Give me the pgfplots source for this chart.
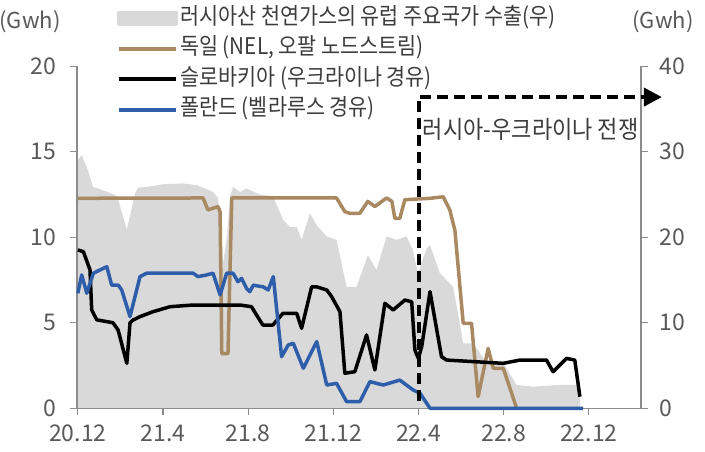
\documentclass[border=0pt]{standalone}
\usepackage{fontspec}
\setmainfont{Noto Sans CJK KR}
\newfontfamily\legfont[FakeStretch=0.9]{Noto Sans CJK KR}
\usepackage{pgfplots}
\pgfplotsset{compat=1.18}
\usetikzlibrary{arrows.meta}

\definecolor{brn}{RGB}{168,137,98}
\definecolor{blu}{RGB}{46,94,170}
\definecolor{areagray}{RGB}{217,217,217}
\definecolor{axgray}{RGB}{140,140,140}
\definecolor{lblgray}{RGB}{89,89,89}
\definecolor{txtgray}{RGB}{60,60,60}

\pgfplotsset{
  common/.style={
    at={(77pt,43.7pt)}, anchor=south west,
    scale only axis, width=564pt, height=342pt,
    xmin=-0.04, xmax=26.45,
    axis line style={-, axgray, line width=1.2pt},
    tick style={axgray, line width=1.2pt},
    major tick length=7pt, tick align=outside,
    ticklabel style={font=\fontsize{23}{27}\selectfont, text=lblgray},
    /pgf/number format/assume math mode=true,
  }
}

\begin{document}
\begin{tikzpicture}[x=1pt,y=1pt]
\useasboundingbox (0,0) rectangle (705,452);

% gray area, right axis
\begin{axis}[common,
  ymin=0, ymax=40, ytick={0,10,20,30,40},
  axis x line=none, axis y line*=right,
  yticklabel style={xshift=8pt},
]
\addplot[fill=areagray, draw=none] coordinates {
(0,29.0)(0.18,29.6)(0.45,28.0)(0.71,25.9)(1.18,25.5)(1.51,25.2)(1.85,24.8)(2.30,20.9)(2.70,25.2)(2.83,25.8)(3.25,25.9)(4.0,26.2)(4.94,26.3)(5.60,26.1)(6.35,25.3)(6.58,24.6)(6.70,22.0)(6.82,17.0)(7.00,20.0)(7.15,24.8)(7.29,25.9)(7.62,25.3)(7.93,25.7)(8.55,25.0)(9.16,24.8)(9.65,22.0)(9.96,21.2)(10.28,21.2)(10.51,19.7)(10.90,22.8)(11.22,21.4)(11.69,20.1)(12.15,19.7)(12.62,14.2)(13.09,14.2)(13.62,17.9)(14.03,16.2)(14.50,20.1)(14.97,19.7)(15.44,20.1)(15.74,18.5)(15.97,15.8)(16.38,18.7)(16.54,19.1)(17.00,15.8)(17.63,14.2)(18.10,7.6)(18.57,7.6)(19.20,5.3)(19.98,5.3)(20.61,2.73)(21.38,2.53)(22.64,2.73)(23.58,2.73)
} \closedcycle;
\end{axis}

% lines, left axis
\begin{axis}[common,
  ymin=0, ymax=20, ytick={0,5,10,15,20},
  axis x line*=bottom, axis y line*=left,
  yticklabel style={xshift=-10pt},
  xtick={0,4,8,12,16,20,24},
  xticklabels={20.12,21.4,21.8,21.12,22.4,22.8,22.12},
  xticklabel style={yshift=-6pt},
  clip=false,
  legend style={at={(0.0709,1.179)}, anchor=north west, draw=none, fill=none,
    inner sep=0pt, row sep=4.5pt,
    font=\legfont\fontsize{23}{27}\selectfont, text=txtgray,
    nodes={inner sep=2pt, text height=17pt, text depth=5pt}},
  legend cell align=left,
  legend image code/.code={\draw[#1, line width=4pt] (0pt,0pt) -- (57pt,0pt);},
  every axis plot/.append style={line width=3.5pt, line join=round},
]
\addlegendimage{legend image code/.code={\fill[areagray] (0pt,-6pt) rectangle (57pt,6pt);}}
\addlegendentry{러시아산 천연가스의 유럽 주요국가 수출(우)}

\addplot[brn] coordinates {
(0,12.28)(5.88,12.3)(6.11,11.6)(6.58,11.8)(6.68,11.5)(6.76,3.2)(7.05,3.2)(7.23,12.3)(12.15,12.3)(12.54,11.5)(12.77,11.4)(13.24,11.4)(13.62,12.1)(13.95,11.8)(14.50,12.3)(14.75,12.1)(14.89,11.1)(15.12,11.1)(15.36,12.2)(16.54,12.28)(17.16,12.37)(17.47,11.6)(17.71,10.4)(18.10,4.97)(18.49,4.97)(18.80,0.68)(19.27,3.5)(19.51,2.34)(19.98,2.34)(20.61,0)
};
\addlegendentry{독일 (NEL, 오팔 노드스트림)}

\addplot[black] coordinates {
(0,9.26)(0.26,9.16)(0.57,8.1)(0.65,5.75)(0.89,5.17)(1.36,5.07)(1.65,5.0)(1.89,4.58)(2.30,2.63)(2.45,5.0)(2.59,5.16)(2.92,5.36)(3.53,5.65)(4.33,5.94)(5.41,6.04)(7.62,6.04)(8.16,5.94)(8.37,5.5)(8.69,4.87)(9.16,4.87)(9.63,5.55)(10.28,5.55)(10.51,4.68)(10.98,7.1)(11.22,7.1)(11.69,6.92)(11.92,6.53)(12.31,5.65)(12.54,2.05)(13.01,2.14)(13.56,4.29)(13.95,2.24)(14.42,6.14)(14.81,5.75)(15.36,6.33)(15.68,6.23)(15.83,3.41)(15.99,2.92)(16.15,3.6)(16.54,6.82)(17.08,3.02)(17.32,2.82)(19.98,2.63)(20.76,2.82)(22.01,2.82)(22.32,2.14)(22.95,2.92)(23.34,2.82)(23.58,0.68)
};
\addlegendentry{슬로바키아 (우크라이나 경유)}

\addplot[blu] coordinates {
(0,6.73)(0.18,7.8)(0.42,6.73)(0.73,7.9)(1.04,8.09)(1.36,8.28)(1.59,7.2)(1.90,7.2)(2.06,6.92)(2.45,5.36)(2.92,7.7)(3.23,7.9)(5.42,7.9)(5.64,7.7)(6.05,7.8)(6.35,7.9)(6.68,6.63)(6.99,7.9)(7.29,7.9)(7.52,7.4)(7.69,7.6)(7.93,7.0)(8.08,6.82)(8.24,7.2)(8.71,7.1)(8.94,6.92)(9.18,7.7)(9.57,3.02)(9.88,3.7)(10.12,3.8)(10.59,2.34)(11.22,3.9)(11.69,1.36)(12.15,1.46)(12.62,0.39)(13.25,0.39)(13.72,1.56)(14.34,1.36)(15.12,1.65)(15.75,1.07)(16.07,0.88)(16.54,0)(23.73,0)
};
\addlegendentry{폴란드 (벨라루스 경유)}

% war annotation
\draw[line width=4pt, dash pattern=on 11pt off 6pt, -{Triangle[length=18pt,width=18pt]}]
  (axis cs:16,0.4) -- (axis cs:16,18.2) -- (axis cs:27.43,18.2);
\node[anchor=west, inner sep=0pt, font=\legfont\fontsize{24.5}{28}\selectfont, text=txtgray]
  at (axis cs:16.2,16.3) {러시아-우크라이나 전쟁};
\end{axis}

\node[font=\fontsize{22}{26}\selectfont, text=lblgray] at (30,430) {(Gwh)};
\node[font=\fontsize{22}{26}\selectfont, text=lblgray] at (663,430) {(Gwh)};
\end{tikzpicture}
\end{document}
